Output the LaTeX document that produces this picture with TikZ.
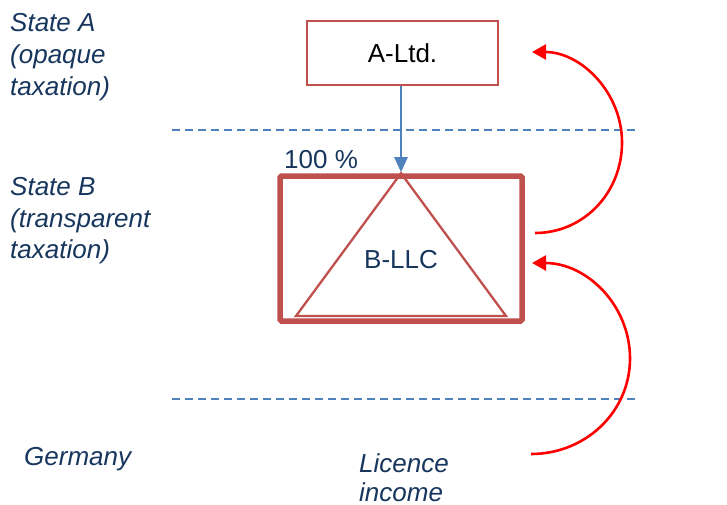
\documentclass[tikz,border=0pt]{standalone}
\usepackage{fontspec}
\setmainfont{Liberation Sans}
\usetikzlibrary{arrows.meta}
\definecolor{boxred}{HTML}{C0504D}
\definecolor{lineblue}{HTML}{4F81BD}
\definecolor{navy}{HTML}{17365D}
\begin{document}
\begin{tikzpicture}[x=1pt,y=-1pt,
  lbl/.style={anchor=base west,inner sep=0pt,font=\fontsize{26}{32}\selectfont\itshape,text=navy},
  entbox/.style={draw=boxred,line width=1.8pt,minimum width=191pt,minimum height=64pt,inner sep=0pt,font=\fontsize{26}{30}\selectfont},
  bigbox/.style={draw=boxred,line width=5.5pt,rounded corners=1.5pt,minimum width=242pt,minimum height=145pt,inner sep=0pt},
  border/.style={dashed,dash pattern=on 8pt off 5pt,draw=lineblue,line width=1.5pt},
  flow/.style={draw=red,line width=2.6pt,-{Triangle[width=15pt,length=14pt]}}]
\useasboundingbox (0,0) rectangle (727,505);
% borders
\coordinate (b1l) at (172,130); \coordinate (b1r) at (636,130);
\coordinate (b2l) at (172,399); \coordinate (b2r) at (636,399);
\draw[border] (b1l) -- (b1r);
\draw[border] (b2l) -- (b2r);
% entities
\node[entbox] (altd) at (402.5,53) {A-Ltd.};
\node[bigbox] (bllc) at (401,248.5) {};
\coordinate (tl) at (296,316); \coordinate (tr) at (506,316);
\draw[draw=boxred,line width=2.3pt,line join=miter] (bllc.north) -- (tr) -- (tl) -- cycle;
\node[anchor=base,inner sep=0pt,font=\fontsize{26}{30}\selectfont,text=navy] (bname) at (401,268) {B-LLC};
\draw[draw=lineblue,line width=2.6pt,-{Triangle[width=13pt,length=15pt]}] (bllc.north |- altd.south) -- ([yshift=1pt]bllc.north);
\node[anchor=base west,inner sep=0pt,font=\fontsize{26}{30}\selectfont,text=navy] (pct) at (284,168) {100 \%};
% labels
\node[lbl] (sa1) at (10,32) {State A};
\node[lbl] (sa2) at (10,64) {(opaque};
\node[lbl] (sa3) at (10,96) {taxation)};
\node[lbl] (sb1) at (10,195) {State B};
\node[lbl] (sb2) at (10,227) {(transparent};
\node[lbl] (sb3) at (10,258) {taxation)};
\node[lbl] (ger) at (24,465) {Germany};
\node[lbl] (lic1) at (359,472) {Licence};
\node[lbl] (lic2) at (359,501) {income};
% flows
\coordinate (u0) at (535,233); \coordinate (u1) at (622,142.5); \coordinate (u2) at (532,52);
\draw[flow] (u0) .. controls +(49,0) and +(0,50) .. (u1) .. controls +(0,-50) and +(49,0) .. (u2);
\coordinate (d0) at (531,454); \coordinate (d1) at (630,358.5); \coordinate (d2) at (532,263);
\draw[flow] (d0) .. controls +(55,0) and +(0,53) .. (d1) .. controls +(0,-53) and +(55,0) .. (d2);
\end{tikzpicture}
\end{document}
